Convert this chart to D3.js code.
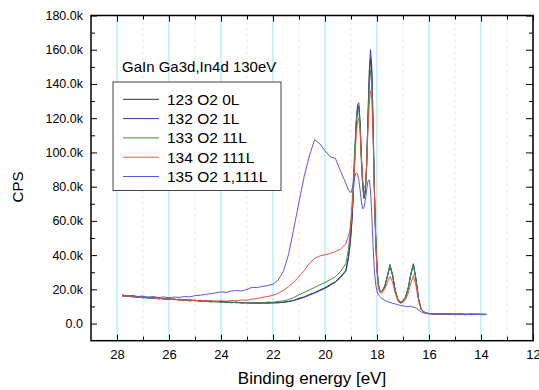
<!DOCTYPE html>
<html>
<head>
<meta charset="utf-8">
<script src="https://cdn.jsdelivr.net/npm/d3@7"></script>
<style>
body { margin: 0; background: #fff; }
svg text { font-family: "Liberation Sans", Arial, sans-serif; fill: #000; }
</style>
</head>
<body>
<svg></svg>
<script>
/*binding energies [eV] shared by all the spectra*/
let energies = [
    27.8, 27.6, 27.4, 27.2, 27.0, 26.8, 26.6, 26.4, 26.2, 26.0,
    25.8, 25.6, 25.4, 25.2, 25.0, 24.8, 24.6, 24.4, 24.2, 24.0,
    23.8, 23.6, 23.4, 23.2, 23.0, 22.8, 22.6, 22.4, 22.2, 22.0,
    21.8, 21.6, 21.4, 21.2, 21.0, 20.8, 20.6, 20.4, 20.2, 20.0,
    19.8, 19.6, 19.4, 19.2,
    19.15, 19.10, 19.05, 19.00, 18.95, 18.90, 18.85, 18.80, 18.75, 18.70,
    18.65, 18.60, 18.55, 18.50, 18.45, 18.40, 18.35, 18.30, 18.25, 18.20,
    18.15, 18.10, 18.05, 18.00, 17.95, 17.90, 17.85, 17.80,
    17.7, 17.6, 17.5, 17.4, 17.3, 17.2, 17.1, 17.0, 16.9, 16.8,
    16.7, 16.6, 16.5, 16.4, 16.3, 16.2, 16.1, 16.0,
    15.8, 15.6, 15.4, 15.2, 15.0, 14.8, 14.6, 14.4, 14.2, 14.0, 13.8
];

/*counts in thousands (k CPS)*/
let cps123 = [
    16.4, 15.8, 16.0, 15.3, 15.6, 14.9, 15.2, 14.5, 14.8, 14.1,
    14.4, 13.7, 14.0, 13.4, 13.7, 13.0, 13.4, 12.8, 13.1, 12.6,
    12.9, 12.3, 12.6, 12.0, 12.4, 11.8, 12.2, 11.9, 12.3, 12.0,
    12.5, 12.3, 13.0, 13.6, 14.8, 15.6, 17.0, 18.1, 19.6, 21.0,
    22.8, 24.5, 27.5, 31.0,
    35, 39, 45, 53, 64, 80, 98, 115, 125, 127,
    117, 98, 82, 75, 78, 92, 118, 142, 155, 146,
    115, 78, 50, 32, 23, 19.5, 18.5, 19.0,
    21.5, 27.5, 33.5, 28.0, 19.5, 14.0, 12.5, 13.2, 15.5, 20.5,
    28.5, 34.5, 25.5, 14.0, 8.5, 6.8, 6.2, 5.9,
    5.7, 5.9, 5.4, 5.8, 5.3, 5.6, 5.5, 5.2, 5.6, 5.3, 5.4
];
let cps132 = [
    16.1, 16.0, 15.6, 15.5, 15.1, 15.2, 14.7, 14.9, 14.3, 14.6,
    14.0, 14.2, 13.6, 13.9, 13.3, 13.5, 12.9, 13.2, 12.6, 12.9,
    12.3, 12.6, 12.1, 12.4, 11.9, 12.2, 11.7, 12.1, 11.8, 12.2,
    12.0, 12.6, 12.8, 13.5, 14.4, 15.3, 16.6, 17.8, 19.2, 20.6,
    22.3, 24.2, 27.0, 30.5,
    34, 38, 44, 52, 63, 80, 100, 118, 128, 129,
    118, 97, 80, 73, 76, 91, 120, 147, 160, 150,
    118, 80, 51, 33, 23, 19.5, 18.5, 19.0,
    22.0, 28.0, 34.5, 28.5, 19.5, 14.2, 12.4, 13.0, 15.4, 20.8,
    29.0, 35.0, 26.0, 14.5, 8.6, 6.9, 6.1, 5.8,
    5.5, 5.8, 5.6, 5.3, 5.7, 5.4, 5.2, 5.6, 5.3, 5.5, 5.2
];
let cps133 = [
    16.6, 15.9, 16.2, 15.4, 15.7, 14.8, 15.1, 14.4, 14.7, 14.0,
    14.3, 13.6, 13.9, 13.2, 13.6, 12.9, 13.2, 12.6, 13.0, 12.4,
    12.7, 12.1, 12.5, 11.9, 12.3, 11.8, 12.3, 12.0, 12.6, 12.4,
    13.0, 13.2, 14.0, 15.2, 16.8, 18.2, 19.6, 21.2, 22.6, 24.0,
    25.6, 27.4, 30.5, 35.0,
    39, 43, 50, 60, 72, 88, 104, 118, 124, 125,
    114, 94, 80, 75, 78, 92, 116, 138, 148, 140,
    112, 77, 50, 32, 23, 19.5, 18.6, 19.2,
    22.0, 28.0, 34.0, 28.2, 19.3, 14.1, 12.6, 13.3, 15.6, 20.6,
    28.8, 34.2, 25.8, 14.2, 8.4, 6.7, 6.1, 5.8,
    5.6, 5.4, 5.8, 5.5, 5.2, 5.6, 5.4, 5.7, 5.3, 5.4, 5.5
];
let cps134 = [
    16.0, 16.3, 15.5, 15.8, 15.0, 15.3, 14.6, 14.9, 14.2, 14.5,
    13.9, 14.2, 13.6, 13.9, 13.3, 13.7, 13.1, 13.5, 13.0, 13.4,
    13.1, 13.5, 13.3, 13.8, 13.6, 14.3, 14.6, 15.4, 15.8, 16.6,
    17.6, 19.5, 21.6, 24.2, 27.5, 31.0, 35.2, 38.0, 39.5, 40.2,
    41.0, 42.0, 43.5, 46.5,
    49, 51, 54, 60, 69, 80, 96, 110, 118, 120,
    112, 96, 84, 79, 81, 92, 112, 128, 136, 131,
    108, 76, 48, 30, 21.5, 18.5, 17.8, 18.0,
    20.0, 24.0, 27.5, 24.2, 17.8, 13.2, 11.8, 12.3, 14.0, 17.8,
    23.5, 28.0, 22.0, 12.8, 8.0, 6.6, 6.0, 5.8,
    5.5, 5.7, 5.3, 5.6, 5.4, 5.2, 5.5, 5.3, 5.6, 5.2, 5.3
];
let cps135 = [
    16.8, 16.2, 16.5, 15.8, 16.1, 15.5, 15.8, 15.2, 15.6, 15.1,
    15.5, 15.3, 15.8, 15.6, 16.3, 16.6, 17.0, 17.5, 17.9, 18.5,
    18.2, 19.0, 19.3, 19.1, 20.0, 21.2, 21.0, 21.8, 22.2, 23.0,
    25.5, 30.5, 40.5, 55.5, 71.0, 86.0, 98.0, 107.5, 105.0, 101.0,
    97.5, 96.5, 89.0, 82.0,
    80, 78, 77, 76.5, 79, 83, 86, 88, 87.5, 84,
    78, 71, 67, 68, 72, 78, 83, 84, 78, 63,
    45, 31, 23, 19, 17, 16, 15.2, 14.5,
    13.6, 12.8, 12.4, 11.8, 11.5, 11.0, 10.6, 10.4, 10.0, 9.9,
    10.2, 9.6, 9.2, 8.0, 6.8, 6.2, 5.9, 5.7,
    5.6, 5.4, 5.7, 5.3, 5.5, 5.6, 5.2, 5.5, 5.3, 5.4, 5.3
];

let seriesNames = ['123 O2 0L', '132 O2 1L', '133 O2 11L', '134 O2 111L', '135 O2 1,111L'];
let seriesColors = ['#333333', '#3c3c98', '#3a903a', '#e8504a', '#5858e6'];

/*tick values*/
let xMajorTicks = [28, 26, 24, 22, 20, 18, 16, 14, 12];
let xMinorTicks = [27, 25, 23, 21, 19, 17, 15, 13];
let yMajorTicks = [0, 20000, 40000, 60000, 80000, 100000, 120000, 140000, 160000, 180000];
let yMinorTicks = [10000, 30000, 50000, 70000, 90000, 110000, 130000, 150000, 170000];

let width = 539;
let height = 390;
let plotLeft = 91, plotRight = 533, plotTop = 15.5, plotBottom = 340.7;

let svg = d3.select('svg')
            .attr('width', width)
            .attr('height', height);

let xScale = d3.scaleLinear().domain([29, 12]).range([plotLeft, plotRight]);
let yScale = d3.scaleLinear().domain([-10000, 180000]).range([plotBottom, plotTop]);

/*vertical grid lines: cyan at even eV, dashed grey at odd eV*/
svg.append('g')
    .selectAll('line')
    .data(xMinorTicks)
    .enter()
    .append('line')
    .attr('x1', d => xScale(d)).attr('x2', d => xScale(d))
    .attr('y1', plotTop).attr('y2', plotBottom)
    .attr('stroke', '#e2e2e2')
    .attr('stroke-dasharray', '3,3');

svg.append('g')
    .selectAll('line')
    .data(xMajorTicks)
    .enter()
    .append('line')
    .attr('x1', d => xScale(d)).attr('x2', d => xScale(d))
    .attr('y1', plotTop).attr('y2', plotBottom)
    .attr('stroke', '#b4f0f8')
    .attr('stroke-width', 1.5);

/*spectra*/
let allSeries = [cps123, cps132, cps133, cps134, cps135];
let line = d3.line()
            .x((d, i) => xScale(energies[i]))
            .y(d => yScale(d * 1000));

svg.append('g')
    .selectAll('path')
    .data(allSeries)
    .enter()
    .append('path')
    .attr('d', d => line(d))
    .attr('fill', 'none')
    .attr('stroke', (d, i) => seriesColors[i])
    .attr('stroke-width', 1)
    .attr('stroke-linejoin', 'round');

/*axes with inward ticks*/
let yFormat = d => d === 0 ? '0.0' : (d / 1000).toFixed(1) + 'k';

let addAxis = (axis, tx, ty) => {
    let g = svg.append('g')
                .attr('transform', 'translate(' + tx + ',' + ty + ')')
                .call(axis);
    g.select('.domain').remove();
    g.selectAll('line').attr('stroke', '#000');
    return g;
};

addAxis(d3.axisLeft(yScale).tickValues(yMajorTicks).tickSizeInner(-6).tickSizeOuter(0)
        .tickPadding(8).tickFormat(yFormat), plotLeft, 0)
    .selectAll('text').style('font-size', '12.5px').attr('fill', '#000');
addAxis(d3.axisLeft(yScale).tickValues(yMinorTicks).tickSizeInner(-4).tickSizeOuter(0).tickFormat(''), plotLeft, 0);
addAxis(d3.axisRight(yScale).tickValues(yMajorTicks).tickSizeInner(-7).tickSizeOuter(0).tickFormat(''), plotRight, 0);
addAxis(d3.axisRight(yScale).tickValues(yMinorTicks).tickSizeInner(-4).tickSizeOuter(0).tickFormat(''), plotRight, 0);

addAxis(d3.axisBottom(xScale).tickValues(xMajorTicks).tickSizeInner(-6).tickSizeOuter(0)
        .tickPadding(9).tickFormat(d3.format('d')), 0, plotBottom)
    .selectAll('text').style('font-size', '13px').attr('fill', '#000');
addAxis(d3.axisBottom(xScale).tickValues(xMinorTicks).tickSizeInner(-4).tickSizeOuter(0).tickFormat(''), 0, plotBottom);
addAxis(d3.axisTop(xScale).tickValues(xMajorTicks).tickSizeInner(-6).tickSizeOuter(0).tickFormat(''), 0, plotTop);
addAxis(d3.axisTop(xScale).tickValues(xMinorTicks).tickSizeInner(-4).tickSizeOuter(0).tickFormat(''), 0, plotTop);

/*plot frame*/
svg.append('rect')
    .attr('x', plotLeft).attr('y', plotTop)
    .attr('width', plotRight - plotLeft).attr('height', plotBottom - plotTop)
    .attr('fill', 'none')
    .attr('stroke', '#000')
    .attr('stroke-width', 1.5);

/*axis titles*/
svg.append('text')
    .attr('x', (plotLeft + plotRight) / 2)
    .attr('y', 384)
    .attr('text-anchor', 'middle')
    .style('font-size', '17px')
    .text('Binding energy [eV]');

svg.append('text')
    .attr('transform', 'translate(23,187) rotate(-90)')
    .attr('text-anchor', 'middle')
    .style('font-size', '15px')
    .text('CPS');

/*title inside the plot*/
svg.append('text')
    .attr('x', 122)
    .attr('y', 71.5)
    .style('font-size', '15px')
    .text('GaIn Ga3d,In4d 130eV');

/*legend*/
let legend = svg.append('g');
legend.append('rect')
    .attr('x', 113).attr('y', 82)
    .attr('width', 168).attr('height', 108.5)
    .attr('fill', '#fff')
    .attr('stroke', '#444')
    .attr('stroke-width', 1);

let rows = legend.selectAll('g')
                .data(seriesNames)
                .enter()
                .append('g')
                .attr('transform', (d, i) => 'translate(0,' + (99.3 + i * 19.3) + ')');
rows.append('line')
    .attr('x1', 123).attr('x2', 159)
    .attr('stroke', (d, i) => seriesColors[i])
    .attr('stroke-width', 1);
rows.append('text')
    .attr('x', 167)
    .attr('dy', '0.36em')
    .style('font-size', '15.5px')
    .text(d => d);
</script>
</body>
</html>
